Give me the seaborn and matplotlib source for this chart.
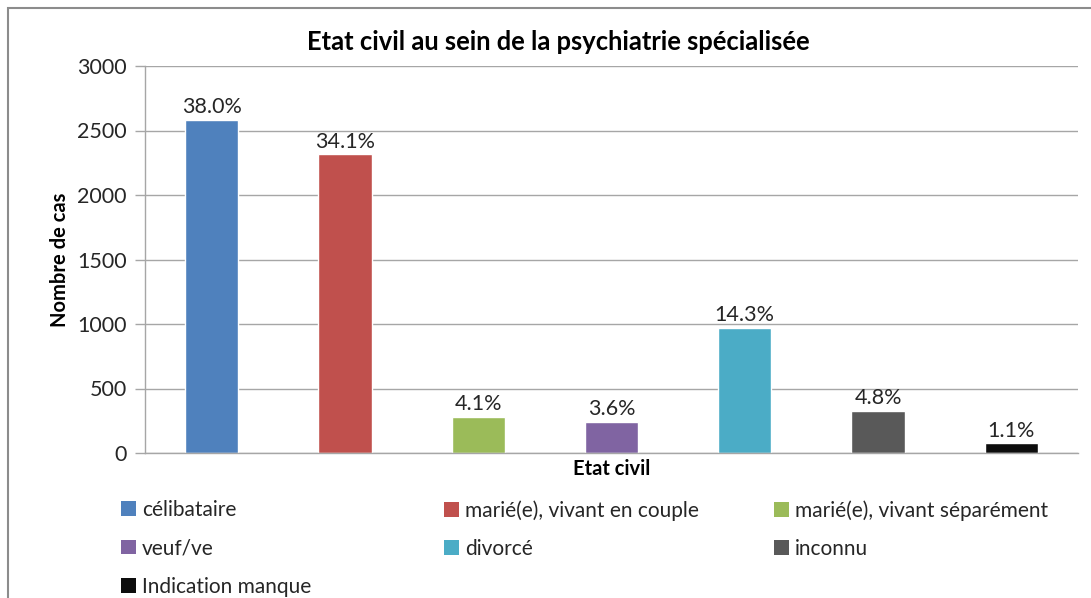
import matplotlib
matplotlib.use("Agg")
import matplotlib.pyplot as plt
from matplotlib.patches import Patch, Rectangle
import seaborn as sns
import pandas as pd

categories = [
    "célibataire",
    "marié(e), vivant en couple",
    "marié(e), vivant séparément",
    "veuf/ve",
    "divorcé",
    "inconnu",
    "Indication manque",
]
cases = [2580, 2315, 278, 244, 970, 326, 75]
shares = ["38.0%", "34.1%", "4.1%", "3.6%", "14.3%", "4.8%", "1.1%"]
colors = ["#4F81BD", "#C0504D", "#9BBB59", "#8064A2", "#4BACC6", "#595959", "#0D0D0D"]
yticks = [0, 500, 1000, 1500, 2000, 2500, 3000]

sns.set_theme(style="white")
plt.rcParams["font.family"] = ["Lato", "DejaVu Sans"]

df = pd.DataFrame({"etat": categories, "n": cases})

fig = plt.figure(figsize=(10.91, 5.98), dpi=100)
ax = fig.add_axes([145 / 1091, 1 - 453 / 598, (1078 - 145) / 1091, (453 - 66) / 598])

sns.barplot(data=df, x="etat", y="n", hue="etat", order=categories,
            hue_order=categories, palette=colors, width=0.4, legend=False,
            saturation=1, ax=ax)

for cont, lab in zip(ax.containers, shares):
    ax.bar_label(cont, labels=[lab], padding=2, fontsize=15.5, color="#262626")

ax.set_ylim(0, 3000)
ax.set_yticks(yticks)
ax.set_yticklabels([str(t) for t in yticks], fontsize=15.5, color="#262626")
ax.set_xticks([])
ax.set_xlim(-0.5, len(categories) - 0.5)
ax.yaxis.grid(True, color="#A6A6A6", linewidth=1)
ax.set_axisbelow(True)
ax.tick_params(axis="y", which="major", left=True, length=7, width=1,
               color="#A6A6A6", pad=6)
for side in ("top", "right"):
    ax.spines[side].set_visible(False)
for side in ("left", "bottom"):
    ax.spines[side].set_color("#A6A6A6")
    ax.spines[side].set_linewidth(1)

ax.set_xlabel("Etat civil", fontsize=14.5, fontweight="bold", color="black", labelpad=4)
ax.set_ylabel("Nombre de cas", fontsize=14.5, fontweight="bold", color="black", labelpad=5)
fig.text(558 / 1091, 1 - 42 / 598, "Etat civil au sein de la psychiatrie spécialisée",
         ha="center", va="center", fontsize=18.4, fontweight="bold", color="black")

# legend laid out row by row in three evenly spaced columns
handles = [Patch(facecolor=c, edgecolor="none") for c in colors]
col_x = [121 / 1091, 444 / 1091, 774 / 1091]
for col in range(3):
    idx = list(range(col, len(categories), 3))
    fig.legend([handles[i] for i in idx], [categories[i] for i in idx],
               loc="upper left", bbox_to_anchor=(col_x[col], 1 - 500 / 598),
               frameon=False, fontsize=15, handlelength=0.7, handleheight=0.7,
               handletextpad=0.3, labelspacing=0.88, borderaxespad=0,
               borderpad=0, labelcolor="#262626")

# chart frame
fig.patches.append(Rectangle((8 / 1091, -0.05), 1.2, 1 - 8 / 598 + 0.05,
                             transform=fig.transFigure, fill=False,
                             edgecolor="#8C8C8C", linewidth=1.5))

fig.savefig("out.png", dpi=100)
